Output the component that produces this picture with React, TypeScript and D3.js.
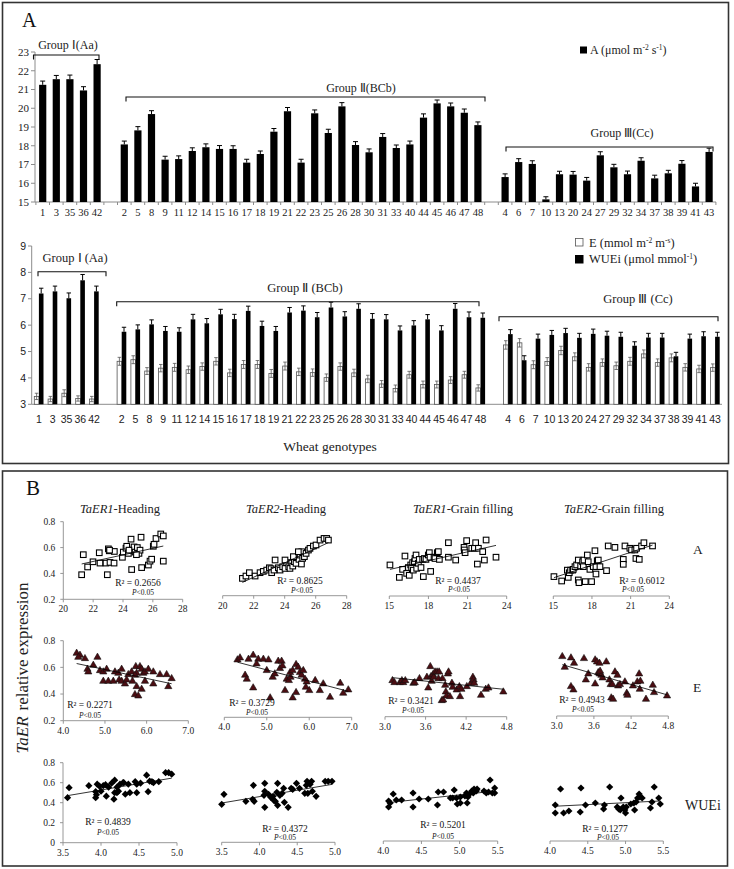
import React from 'react';
import * as d3 from 'd3';

// ---------- Panel A data ----------
const groupI = ['1', '3', '35', '36', '42'];
const groupII = ['2', '5', '8', '9', '11', '12', '14', '15', '16', '17', '18', '19', '21', '22', '23', '25', '26', '28', '30', '31', '33', '40', '44', '45', '46', '47', '48'];
const groupIII = ['4', '6', '7', '10', '13', '20', '24', '27', '29', '32', '34', '37', '38', '39', '41', '43'];

const photoA = [
  21.25, 21.55, 21.55, 20.95, 22.35,
  18.07, 18.82, 19.69, 17.26, 17.29, 17.72, 17.92, 17.83, 17.83, 17.10, 17.56, 18.75, 19.84, 17.10, 19.73, 18.68, 20.10, 18.04, 17.65, 18.47, 17.88, 18.07, 19.50, 20.26, 20.10, 19.76, 19.10,
  16.33, 17.13, 17.03, 15.14, 16.48, 16.46, 16.14, 17.49, 16.85, 16.48, 17.20, 16.26, 16.53, 17.04, 15.83, 17.67,
];
const photoAErr = [
  0.2, 0.2, 0.22, 0.2, 0.25,
  0.18, 0.2, 0.18, 0.18, 0.17, 0.17, 0.18, 0.18, 0.17, 0.18, 0.16, 0.17, 0.2, 0.18, 0.18, 0.2, 0.2, 0.18, 0.18, 0.18, 0.16, 0.18, 0.2, 0.18, 0.18, 0.2, 0.17,
  0.17, 0.18, 0.17, 0.14, 0.16, 0.17, 0.17, 0.19, 0.16, 0.17, 0.16, 0.17, 0.16, 0.17, 0.17, 0.2,
];
const transpE = [
  3.30, 3.20, 3.42, 3.22, 3.20,
  4.63, 4.69, 4.26, 4.37, 4.40, 4.31, 4.43, 4.63, 4.19, 4.51, 4.51, 4.17, 4.45, 4.23, 4.20, 4.01, 4.43, 4.19, 3.96, 3.77, 3.60, 4.12, 3.75, 3.75, 3.92, 4.12, 3.62,
  5.25, 5.33, 4.50, 4.62, 5.04, 4.80, 4.40, 4.58, 4.46, 4.63, 4.91, 4.58, 4.76, 4.40, 4.34, 4.39,
];
const transpEErr = [
  0.12, 0.1, 0.13, 0.1, 0.1,
  0.15, 0.15, 0.13, 0.14, 0.15, 0.14, 0.14, 0.14, 0.14, 0.15, 0.15, 0.15, 0.15, 0.14, 0.14, 0.14, 0.14, 0.14, 0.14, 0.13, 0.13, 0.13, 0.13, 0.13, 0.13, 0.13, 0.12,
  0.16, 0.16, 0.15, 0.15, 0.16, 0.15, 0.14, 0.14, 0.14, 0.15, 0.15, 0.14, 0.15, 0.14, 0.14, 0.14,
];
const wuei = [
  7.20, 7.28, 7.02, 7.70, 7.28,
  5.75, 5.84, 6.03, 5.78, 5.75, 6.22, 6.07, 6.41, 6.23, 6.54, 5.97, 5.78, 6.48, 6.55, 6.30, 6.67, 6.33, 6.62, 6.24, 6.22, 5.80, 5.99, 6.22, 5.80, 6.62, 6.30, 6.28,
  5.66, 4.67, 5.49, 5.63, 5.70, 5.52, 5.67, 5.60, 5.56, 5.22, 5.53, 5.53, 4.82, 5.49, 5.58, 5.56,
];
const wueiErr = [
  0.2, 0.2, 0.2, 0.22, 0.2,
  0.17, 0.17, 0.17, 0.17, 0.15, 0.19, 0.18, 0.19, 0.18, 0.18, 0.18, 0.17, 0.19, 0.18, 0.18, 0.2, 0.18, 0.19, 0.2, 0.18, 0.17, 0.18, 0.18, 0.18, 0.2, 0.2, 0.18,
  0.17, 0.17, 0.17, 0.17, 0.18, 0.17, 0.18, 0.17, 0.17, 0.15, 0.16, 0.16, 0.15, 0.17, 0.17, 0.17,
];
const topTicks = [15, 16, 17, 18, 19, 20, 21, 22, 23];
const bottomTicks = [3, 4, 5, 6, 7, 8, 9];

// ---------- Panel B data ----------
const er1HeadingVsA: [number, number][] = [
  [21.23, 0.39], [21.34, 0.545], [21.63, 0.45], [21.99, 0.49], [22.41, 0.56], [22.46, 0.48], [22.86, 0.48], [22.95, 0.39], [23.02, 0.59], [23.08, 0.575],
  [23.13, 0.485], [23.4, 0.48], [23.42, 0.57], [23.96, 0.525], [24.02, 0.565], [24.2, 0.595], [24.25, 0.61], [24.36, 0.555], [24.54, 0.665], [24.58, 0.43],
  [24.65, 0.58], [24.74, 0.605], [24.81, 0.565], [24.96, 0.6], [25.07, 0.555], [25.14, 0.58], [25.21, 0.68], [25.25, 0.445], [25.7, 0.465], [25.81, 0.495],
  [25.92, 0.51], [26.03, 0.61], [26.08, 0.625], [26.21, 0.67], [26.53, 0.705], [26.7, 0.69], [26.7, 0.495], [24.4, 0.58], [24.9, 0.545], [23.1, 0.58],
];
const er2HeadingVsA: [number, number][] = [
  [21.27, 0.334], [21.5, 0.352], [21.72, 0.378], [22.09, 0.352], [22.41, 0.378], [22.62, 0.388], [22.84, 0.398], [23.01, 0.416], [23.12, 0.409], [23.16, 0.378],
  [23.31, 0.398], [23.59, 0.416], [23.7, 0.398], [23.87, 0.424], [24.02, 0.411], [24.13, 0.455], [24.26, 0.424], [24.34, 0.411], [24.45, 0.455], [24.52, 0.429],
  [24.62, 0.463], [24.73, 0.45], [24.84, 0.496], [24.92, 0.481], [24.99, 0.514], [25.08, 0.445], [25.16, 0.489], [25.1, 0.54], [25.27, 0.502], [25.38, 0.527],
  [25.53, 0.553], [25.63, 0.566], [25.85, 0.584], [26.02, 0.592], [26.28, 0.63], [26.54, 0.643], [26.71, 0.643], [26.82, 0.63], [23.38, 0.476], [24.02, 0.476],
  [24.56, 0.502], [24.88, 0.54],
];
const er1GrainVsA: [number, number][] = [
  [15.05, 0.44], [15.77, 0.344], [16.02, 0.406], [16.2, 0.509], [16.33, 0.375], [16.46, 0.42], [16.53, 0.36], [16.64, 0.44], [16.71, 0.42], [16.79, 0.458],
  [16.84, 0.4], [16.92, 0.465], [16.97, 0.49], [17.05, 0.517], [17.1, 0.414], [17.23, 0.453], [17.3, 0.483], [17.43, 0.42], [17.56, 0.483], [17.61, 0.35],
  [17.69, 0.49], [17.81, 0.483], [17.99, 0.517], [18.07, 0.535], [18.12, 0.5], [18.17, 0.39], [18.43, 0.5], [18.5, 0.49], [18.68, 0.535], [18.76, 0.543],
  [18.84, 0.483], [19.53, 0.612], [19.53, 0.5], [20.09, 0.478], [20.73, 0.576], [20.75, 0.556], [20.81, 0.535], [20.93, 0.628], [21.32, 0.569], [21.52, 0.569],
  [21.62, 0.612], [21.75, 0.447], [21.83, 0.569], [22.16, 0.543], [22.29, 0.478], [22.42, 0.633], [23.18, 0.5],
];
const er2GrainVsA: [number, number][] = [
  [15.05, 0.35], [15.65, 0.316], [16.09, 0.4], [16.16, 0.344], [16.24, 0.38], [16.34, 0.4], [16.5, 0.4], [16.55, 0.406], [16.68, 0.427], [16.81, 0.44],
  [16.94, 0.478], [16.94, 0.324], [16.99, 0.303], [17.12, 0.432], [17.27, 0.465], [17.33, 0.427], [17.38, 0.478], [17.48, 0.311], [17.64, 0.517], [17.71, 0.465],
  [17.84, 0.406], [17.97, 0.311], [18.1, 0.427], [18.23, 0.55], [18.31, 0.427], [18.31, 0.37], [18.41, 0.473], [18.49, 0.478], [18.62, 0.427], [19.13, 0.396],
  [19.26, 0.587], [19.78, 0.576], [20.43, 0.483], [20.43, 0.445], [20.56, 0.587], [20.94, 0.569], [21.07, 0.556], [21.33, 0.556], [21.46, 0.569], [21.41, 0.49],
  [21.67, 0.483], [21.85, 0.587], [22.03, 0.612], [22.7, 0.587],
];
const er1HeadingVsE: [number, number][] = [
  [4.32, 0.71], [4.4, 0.695], [4.36, 0.68], [4.52, 0.67], [4.72, 0.62], [4.82, 0.68], [4.58, 0.59], [4.6, 0.57], [4.88, 0.58], [4.96, 0.57],
  [5.04, 0.59], [4.96, 0.5], [5.08, 0.5], [5.2, 0.5], [5.24, 0.57], [5.32, 0.56], [5.34, 0.51], [5.4, 0.59], [5.4, 0.5], [5.48, 0.48],
  [5.56, 0.55], [5.64, 0.57], [5.66, 0.5], [5.74, 0.61], [5.76, 0.56], [5.84, 0.61], [5.88, 0.59], [5.92, 0.56], [5.96, 0.57], [5.76, 0.46],
  [5.72, 0.4], [5.8, 0.39], [5.88, 0.44], [5.96, 0.5], [6.04, 0.59], [6.16, 0.57], [6.16, 0.48], [6.32, 0.55], [6.48, 0.55], [6.52, 0.46],
  [6.6, 0.52], [5.72, 0.545], [5.52, 0.51],
];
const er2HeadingVsE: [number, number][] = [
  [4.31, 0.635], [4.37, 0.65], [4.57, 0.64], [4.68, 0.67], [4.8, 0.64], [4.92, 0.64], [5.04, 0.635], [5.27, 0.625], [5.35, 0.625], [4.76, 0.605],
  [4.49, 0.52], [4.53, 0.49], [5.0, 0.555], [5.14, 0.505], [5.19, 0.53], [5.31, 0.57], [5.37, 0.59], [5.47, 0.49], [5.52, 0.48], [5.56, 0.505],
  [5.55, 0.54], [5.61, 0.555], [5.69, 0.6], [5.74, 0.58], [5.78, 0.54], [5.82, 0.52], [5.86, 0.555], [5.9, 0.49], [5.94, 0.47], [5.92, 0.43],
  [6.0, 0.405], [5.43, 0.405], [5.08, 0.35], [4.68, 0.425], [5.61, 0.35], [5.69, 0.39], [6.14, 0.48], [6.25, 0.405], [6.33, 0.455], [6.49, 0.355],
  [6.73, 0.46], [6.8, 0.385], [6.92, 0.41],
];
const er1GrainVsE: [number, number][] = [
  [3.11, 0.475], [3.14, 0.46], [3.22, 0.46], [3.25, 0.475], [3.27, 0.46], [3.3, 0.475], [3.42, 0.455], [3.44, 0.46], [3.51, 0.49], [3.62, 0.5],
  [3.64, 0.42], [3.67, 0.58], [3.68, 0.505], [3.69, 0.47], [3.71, 0.52], [3.72, 0.5], [3.74, 0.54], [3.77, 0.54], [3.8, 0.54], [3.79, 0.49],
  [3.85, 0.49], [3.84, 0.325], [3.86, 0.33], [3.89, 0.44], [3.9, 0.39], [3.91, 0.36], [3.93, 0.525], [3.94, 0.54], [3.96, 0.355], [3.99, 0.455],
  [4.0, 0.425], [4.06, 0.405], [4.1, 0.43], [4.11, 0.355], [4.13, 0.41], [4.21, 0.43], [4.27, 0.455], [4.3, 0.5], [4.31, 0.48], [4.32, 0.455],
  [4.42, 0.365], [4.49, 0.41], [4.53, 0.42], [4.75, 0.39],
];
const er2GrainVsE: [number, number][] = [
  [3.09, 0.65], [3.13, 0.57], [3.23, 0.64], [3.28, 0.6], [3.23, 0.425], [3.27, 0.4], [3.44, 0.635], [3.47, 0.475], [3.51, 0.52], [3.62, 0.625],
  [3.65, 0.61], [3.69, 0.6], [3.8, 0.61], [3.62, 0.445], [3.67, 0.53], [3.69, 0.52], [3.72, 0.51], [3.74, 0.49], [3.7, 0.54], [3.85, 0.475],
  [3.87, 0.44], [3.9, 0.44], [3.88, 0.34], [3.91, 0.33], [3.94, 0.535], [3.98, 0.51], [3.99, 0.43], [4.02, 0.44], [4.1, 0.46], [4.13, 0.375],
  [4.14, 0.36], [4.23, 0.43], [4.3, 0.46], [4.33, 0.52], [4.34, 0.405], [4.35, 0.465], [4.44, 0.33], [4.55, 0.435], [4.57, 0.38], [4.78, 0.355],
];
const er1HeadingVsWUEi: [number, number][] = [
  [3.56, 0.45], [3.58, 0.55], [3.84, 0.57], [3.93, 0.51], [3.94, 0.48], [3.93, 0.45], [3.95, 0.585], [4.03, 0.57], [4.06, 0.58], [4.07, 0.465],
  [4.1, 0.555], [4.14, 0.595], [4.18, 0.625], [4.17, 0.435], [4.18, 0.5], [4.21, 0.555], [4.21, 0.5], [4.23, 0.515], [4.25, 0.585], [4.29, 0.6],
  [4.3, 0.6], [4.32, 0.485], [4.36, 0.585], [4.38, 0.5], [4.45, 0.61], [4.47, 0.5], [4.47, 0.585], [4.52, 0.595], [4.6, 0.675], [4.62, 0.51],
  [4.64, 0.615], [4.67, 0.61], [4.69, 0.6], [4.76, 0.61], [4.85, 0.7], [4.89, 0.7], [4.93, 0.685], [3.98, 0.565], [4.0, 0.515],
];
const er2HeadingVsWUEi: [number, number][] = [
  [3.5, 0.38], [3.53, 0.48], [3.82, 0.41], [3.91, 0.43], [3.92, 0.57], [3.93, 0.41], [4.06, 0.47], [4.07, 0.51], [4.07, 0.59], [4.07, 0.35],
  [4.12, 0.48], [4.15, 0.45], [4.18, 0.46], [4.19, 0.42], [4.21, 0.41], [4.23, 0.5], [4.24, 0.59], [4.24, 0.37], [4.27, 0.47], [4.3, 0.49],
  [4.32, 0.54], [4.33, 0.4], [4.38, 0.35], [4.42, 0.54], [4.44, 0.53], [4.49, 0.59], [4.53, 0.54], [4.6, 0.49], [4.62, 0.57], [4.63, 0.61],
  [4.64, 0.49], [4.67, 0.58], [4.69, 0.61], [4.7, 0.51], [4.75, 0.46], [4.87, 0.61], [4.91, 0.61], [4.96, 0.61],
];
const er1GrainVsWUEi: [number, number][] = [
  [4.07, 0.4], [4.07, 0.34], [4.09, 0.38], [4.13, 0.47], [4.17, 0.41], [4.24, 0.41], [4.39, 0.48], [4.39, 0.34], [4.47, 0.42], [4.59, 0.42],
  [4.71, 0.36], [4.72, 0.49], [4.79, 0.49], [4.88, 0.43], [4.91, 0.43], [4.93, 0.51], [4.96, 0.43], [4.97, 0.37], [5.01, 0.38], [5.01, 0.44],
  [5.07, 0.45], [5.09, 0.48], [5.1, 0.38], [5.11, 0.44], [5.13, 0.47], [5.16, 0.5], [5.18, 0.48], [5.19, 0.52], [5.22, 0.5], [5.23, 0.52],
  [5.32, 0.5], [5.35, 0.48], [5.38, 0.49], [5.4, 0.61], [5.43, 0.48], [5.46, 0.53], [5.46, 0.48],
];
const er2GrainVsWUEi: [number, number][] = [
  [4.07, 0.36], [4.07, 0.28], [4.14, 0.52], [4.18, 0.28], [4.25, 0.3], [4.4, 0.29], [4.41, 0.53], [4.47, 0.36], [4.6, 0.38], [4.71, 0.32],
  [4.72, 0.36], [4.79, 0.54], [4.89, 0.34], [4.91, 0.32], [4.93, 0.31], [4.94, 0.43], [4.97, 0.34], [4.99, 0.31], [5.0, 0.28], [5.01, 0.34],
  [5.07, 0.37], [5.11, 0.38], [5.12, 0.31], [5.14, 0.39], [5.16, 0.43], [5.18, 0.47], [5.19, 0.44], [5.22, 0.43], [5.33, 0.33], [5.35, 0.39],
  [5.38, 0.54], [5.44, 0.43], [5.46, 0.37],
];

const r2Labels = ['0.2656', '0.8625', '0.4437', '0.6012', '0.2271', '0.3729', '0.3421', '0.4943', '0.4839', '0.4372', '0.5201', '0.1277'];

const SERIF = '"Liberation Serif", "Times New Roman", serif';
const SANS = '"Liberation Sans", Arial, sans-serif';
const AXIS = '#8c8c8c';

type Marker = 'square' | 'triangle' | 'diamond';

function fitLine(d: [number, number][]) {
  const mx = d3.mean(d, (p) => p[0]) as number;
  const my = d3.mean(d, (p) => p[1]) as number;
  let num = 0;
  let den = 0;
  d.forEach(([x, y]) => { num += (x - mx) * (y - my); den += (x - mx) * (x - mx); });
  const slope = num / den;
  return { slope, intercept: my - slope * mx };
}

function MarkerShape({ type, x, y }: { type: Marker; x: number; y: number }) {
  if (type === 'square') {
    return <rect x={x - 2.8} y={y - 2.8} width={5.6} height={5.6} fill="#fff" stroke="#000" strokeWidth={1.1} />;
  }
  if (type === 'triangle') {
    return <path d={`M${x},${y - 3.6}L${x + 3.6},${y + 2.6}L${x - 3.6},${y + 2.6}Z`} fill="#4b0d12" stroke="#111" strokeWidth={0.6} />;
  }
  return <path d={`M${x},${y - 3.6}L${x + 3.6},${y}L${x},${y + 3.6}L${x - 3.6},${y}Z`} fill="#000" />;
}

type ScatterProps = {
  data: [number, number][];
  xDomain: [number, number];
  xTicks: number[];
  xFmt: (v: number) => string;
  x0: number;
  x1: number;
  yBase: number;
  yHeight: number;
  yDomain: [number, number];
  yTicks?: number[];
  yFmt?: (v: number) => string;
  marker: Marker;
  r2: string;
  r2x: number;
  r2y: number;
  px: number;
  py: number;
};

function Scatter(p: ScatterProps) {
  const x = d3.scaleLinear().domain(p.xDomain).range([p.x0, p.x1]);
  const y = d3.scaleLinear().domain(p.yDomain).range([p.yBase, p.yBase - p.yHeight]);
  const { slope, intercept } = fitLine(p.data);
  const [xmin, xmax] = d3.extent(p.data, (d) => d[0]) as [number, number];
  return (
    <g>
      <line x1={p.x0} x2={p.x1} y1={p.yBase} y2={p.yBase} stroke={AXIS} strokeWidth={0.9} />
      {p.xTicks.map((t) => (
        <g key={t}>
          <line x1={x(t)} x2={x(t)} y1={p.yBase} y2={p.yBase + 3} stroke={AXIS} strokeWidth={0.9} />
          <text x={x(t)} y={p.yBase + 13} textAnchor="middle" fontSize={9.5} fontFamily={SERIF} fill="#222">{p.xFmt(t)}</text>
        </g>
      ))}
      {p.yTicks && (
        <g>
          <line x1={p.x0} x2={p.x0} y1={p.yBase} y2={p.yBase - p.yHeight} stroke={AXIS} strokeWidth={0.9} />
          {p.yTicks.map((t) => (
            <g key={t}>
              <line x1={p.x0 - 3} x2={p.x0} y1={y(t)} y2={y(t)} stroke={AXIS} strokeWidth={0.9} />
              <text x={p.x0 - 8} y={y(t)} dy="0.35em" textAnchor="end" fontSize={9.5} fontFamily={SERIF} fill="#222">{p.yFmt ? p.yFmt(t) : String(t)}</text>
            </g>
          ))}
        </g>
      )}
      {p.data.map((d, i) => (
        <MarkerShape key={i} type={p.marker} x={x(d[0])} y={y(d[1])} />
      ))}
      <line x1={x(xmin)} x2={x(xmax)} y1={y(slope * xmin + intercept)} y2={y(slope * xmax + intercept)} stroke="#000" strokeWidth={0.8} />
      <text x={p.r2x} y={p.r2y} textAnchor="middle" fontSize={9.5} fontFamily={SERIF} fill="#111">{`R² = ${p.r2}`}</text>
      <text x={p.px} y={p.py} textAnchor="middle" fontSize={7.5} fontFamily={SERIF} fill="#111"><tspan fontStyle="italic">P</tspan>{'<0.05'}</text>
    </g>
  );
}

export default function App() {
  const slots = [...groupI, 'gapA', ...groupII, 'gapB', ...groupIII];
  const genotypes = [...groupI, ...groupII, ...groupIII];

  // top bar chart
  const xTop = d3.scaleBand<string>().domain(slots).range([35.9, 715.9]);
  const yTop = d3.scaleLinear().domain([15, 23]).range([202, 52]);
  const topBoundaries = d3.range(slots.length + 1).map((i) => 35.9 + i * xTop.step());

  // bottom bar chart
  const xBot = d3.scaleBand<string>().domain(slots).range([32, 722]);
  const yBot = d3.scaleLinear().domain([3, 9]).range([404.3, 246]);

  const f1 = (v: number) => v.toFixed(1);
  const f0 = (v: number) => String(v);
  const fY = (v: number) => (v === 0 ? '0' : v.toFixed(1));

  const rowA = { yDomain: [0.2, 0.8] as [number, number], yHeight: 77.6, marker: 'square' as Marker };
  const rowE = { yDomain: [0.2, 0.8] as [number, number], yHeight: 80, marker: 'triangle' as Marker };
  const rowW = { yDomain: [0, 0.8] as [number, number], yHeight: 80, marker: 'diamond' as Marker };

  const scatters: ScatterProps[] = [
    { ...rowA, data: er1HeadingVsA, xDomain: [20, 28], xTicks: [20, 22, 24, 26, 28], xFmt: f0, x0: 63.3, x1: 182.7, yBase: 599.3, yTicks: [0.2, 0.4, 0.6, 0.8], yFmt: fY, r2: r2Labels[0], r2x: 138, r2y: 586, px: 143, py: 595 },
    { ...rowA, data: er2HeadingVsA, xDomain: [20, 28], xTicks: [20, 22, 24, 26, 28], xFmt: f0, x0: 222.7, x1: 346.7, yBase: 595.7, r2: r2Labels[1], r2x: 300, r2y: 584, px: 302, py: 593 },
    { ...rowA, data: er1GrainVsA, xDomain: [15, 24], xTicks: [15, 18, 21, 24], xFmt: f0, x0: 389.3, x1: 506.7, yBase: 596, r2: r2Labels[2], r2x: 458, r2y: 584, px: 459, py: 592 },
    { ...rowA, data: er2GrainVsA, xDomain: [15, 24], xTicks: [15, 18, 21, 24], xFmt: f0, x0: 553.3, x1: 669.3, yBase: 596, r2: r2Labels[3], r2x: 642, r2y: 584, px: 633, py: 592 },
    { ...rowE, data: er1HeadingVsE, xDomain: [4, 7], xTicks: [4, 5, 6, 7], xFmt: f1, x0: 63.3, x1: 188.3, yBase: 720.7, yTicks: [0.2, 0.4, 0.6, 0.8], yFmt: fY, r2: r2Labels[4], r2x: 90, r2y: 708, px: 90, py: 718 },
    { ...rowE, data: er2HeadingVsE, xDomain: [4, 7], xTicks: [4, 5, 6, 7], xFmt: f1, x0: 224.3, x1: 351.7, yBase: 717.3, r2: r2Labels[5], r2x: 252, r2y: 706, px: 257, py: 715 },
    { ...rowE, data: er1GrainVsE, xDomain: [3, 4.8], xTicks: [3.0, 3.6, 4.2, 4.8], xFmt: f1, x0: 385, x1: 506.7, yBase: 716.7, r2: r2Labels[6], r2x: 411, r2y: 704, px: 413, py: 713 },
    { ...rowE, data: er2GrainVsE, xDomain: [3, 4.8], xTicks: [3.0, 3.6, 4.2, 4.8], xFmt: f1, x0: 556.7, x1: 668.3, yBase: 716, r2: r2Labels[7], r2x: 582, r2y: 703, px: 583, py: 712 },
    { ...rowW, data: er1HeadingVsWUEi, xDomain: [3.5, 5], xTicks: [3.5, 4.0, 4.5, 5.0], xFmt: f1, x0: 63, x1: 177, yBase: 842.7, yTicks: [0, 0.2, 0.4, 0.6, 0.8], yFmt: fY, r2: r2Labels[8], r2x: 108, r2y: 825, px: 108, py: 835 },
    { ...rowW, data: er2HeadingVsWUEi, xDomain: [3.5, 5], xTicks: [3.5, 4.0, 4.5, 5.0], xFmt: f1, x0: 221.7, x1: 335, yBase: 842.3, r2: r2Labels[9], r2x: 285, r2y: 832, px: 285, py: 840 },
    { ...rowW, data: er1GrainVsWUEi, xDomain: [4, 5.5], xTicks: [4.0, 4.5, 5.0, 5.5], xFmt: f1, x0: 383.3, x1: 497.7, yBase: 841, r2: r2Labels[10], r2x: 443, r2y: 828, px: 443, py: 839 },
    { ...rowW, data: er2GrainVsWUEi, xDomain: [4, 5.5], xTicks: [4.0, 4.5, 5.0, 5.5], xFmt: f1, x0: 550, x1: 663.3, yBase: 841, r2: r2Labels[11], r2x: 605, r2y: 832, px: 608, py: 840 },
  ];

  const titles = [
    { gene: 'TaER1', stage: '-Heading', x: 120 },
    { gene: 'TaER2', stage: '-Heading', x: 286 },
    { gene: 'TaER1', stage: '-Grain filling', x: 463 },
    { gene: 'TaER2', stage: '-Grain filling', x: 614 },
  ];

  const bracket = (x1: number, x2: number, y: number, drop: number) =>
    `M${x1},${y + drop}V${y}H${x2}V${y + drop}`;

  return (
    <svg width={734} height={869} style={{ position: 'absolute', left: 0, top: 0, background: '#fff' }} fontFamily={SERIF}>
      <rect x={0} y={0} width={734} height={869} fill="#fff" />
      {/* Panel borders */}
      <rect x={2.5} y={2.5} width={726} height={461} fill="none" stroke="#333" strokeWidth={1.6} />
      <rect x={2.5} y={471} width={725} height={395} fill="none" stroke="#333" strokeWidth={1.6} />

      <text x={22} y={27} fontSize={20} fill="#111">A</text>
      <text x={26} y={495} fontSize={21} fill="#111">B</text>

      {/* ---------- Top bar chart ---------- */}
      <line x1={35} x2={35} y1={52} y2={202} stroke={AXIS} strokeWidth={1} />
      {topTicks.map((t) => (
        <g key={t}>
          <line x1={31} x2={35} y1={yTop(t)} y2={yTop(t)} stroke={AXIS} strokeWidth={1} />
          <text x={29} y={yTop(t)} dy="0.35em" textAnchor="end" fontSize={11} fill="#222">{t}</text>
        </g>
      ))}
      <line x1={35} x2={716} y1={202} y2={202} stroke={AXIS} strokeWidth={1} />
      {topBoundaries.map((b, i) => (
        <line key={i} x1={b} x2={b} y1={202} y2={205} stroke={AXIS} strokeWidth={1} />
      ))}
      {genotypes.map((g, i) => {
        const cx = (xTop(g) as number) + xTop.bandwidth() / 2;
        const v = photoA[i];
        const e = photoAErr[i];
        return (
          <g key={g}>
            <rect x={cx - 3.6} y={yTop(v)} width={7.2} height={202 - yTop(v)} fill="#000" />
            <line x1={cx} x2={cx} y1={yTop(v + e)} y2={yTop(v)} stroke="#000" strokeWidth={1} />
            <line x1={cx - 2.5} x2={cx + 2.5} y1={yTop(v + e)} y2={yTop(v + e)} stroke="#000" strokeWidth={1} />
            <text x={cx} y={216} textAnchor="middle" fontSize={10.5} fill="#222">{g}</text>
          </g>
        );
      })}
      <path d={bracket(33.5, 99, 55, 4.5)} fill="none" stroke="#111" strokeWidth={1.1} />
      <path d={bracket(126, 485, 97, 4.5)} fill="none" stroke="#111" strokeWidth={1.1} />
      <path d={bracket(506, 713, 147, 4.5)} fill="none" stroke="#111" strokeWidth={1.1} />
      <text x={68} y={49} textAnchor="middle" fontSize={12} fill="#222">Group Ⅰ(Aa)</text>
      <text x={361} y={92} textAnchor="middle" fontSize={12} fill="#222">Group Ⅱ(BCb)</text>
      <text x={622} y={137} textAnchor="middle" fontSize={12} fill="#222">Group Ⅲ(Cc)</text>
      <rect x={580} y={46.5} width={7} height={7} fill="#000" />
      <text x={590} y={54} fontSize={12} fill="#222">
        A (μmol m<tspan fontSize={7.5} dy={-4}>-2</tspan><tspan dy={4}> s</tspan><tspan fontSize={7.5} dy={-4}>-1</tspan><tspan dy={4}>)</tspan>
      </text>

      {/* ---------- Bottom bar chart ---------- */}
      <line x1={31.7} x2={31.7} y1={246} y2={404.3} stroke={AXIS} strokeWidth={1} />
      {bottomTicks.map((t) => (
        <g key={t}>
          <line x1={28} x2={31.7} y1={yBot(t)} y2={yBot(t)} stroke={AXIS} strokeWidth={1} />
          <text x={26} y={yBot(t)} dy="0.35em" textAnchor="end" fontSize={10.5} fontFamily={SANS} fill="#222">{t}</text>
        </g>
      ))}
      <line x1={31.7} x2={722} y1={404.3} y2={404.3} stroke={AXIS} strokeWidth={1} />
      {genotypes.map((g, i) => {
        const cx = (xBot(g) as number) + xBot.bandwidth() / 2;
        const ev = transpE[i];
        const ee = transpEErr[i];
        const wv = wuei[i];
        const we = wueiErr[i];
        const bw = 4.6;
        const ecx = cx - bw / 2;
        const wcx = cx + bw / 2;
        return (
          <g key={g}>
            <rect x={cx - bw} y={yBot(ev)} width={bw} height={404.3 - yBot(ev)} fill="#fff" stroke="#555" strokeWidth={0.8} />
            <rect x={cx} y={yBot(wv)} width={bw} height={404.3 - yBot(wv)} fill="#000" />
            <line x1={ecx} x2={ecx} y1={yBot(ev + ee)} y2={yBot(ev - ee)} stroke="#555" strokeWidth={0.8} />
            <line x1={ecx - 1.8} x2={ecx + 1.8} y1={yBot(ev + ee)} y2={yBot(ev + ee)} stroke="#555" strokeWidth={0.8} />
            <line x1={ecx - 1.8} x2={ecx + 1.8} y1={yBot(ev - ee)} y2={yBot(ev - ee)} stroke="#555" strokeWidth={0.8} />
            <line x1={wcx} x2={wcx} y1={yBot(wv + we)} y2={yBot(wv)} stroke="#000" strokeWidth={1} />
            <line x1={wcx - 2.2} x2={wcx + 2.2} y1={yBot(wv + we)} y2={yBot(wv + we)} stroke="#000" strokeWidth={1} />
            <text x={cx} y={423} textAnchor="middle" fontSize={10.5} fontFamily={SANS} fill="#222">{g}</text>
          </g>
        );
      })}
      <path d={bracket(38, 106, 271.7, 4.5)} fill="none" stroke="#111" strokeWidth={1.1} />
      <path d={bracket(116.7, 479, 301.7, 4.5)} fill="none" stroke="#111" strokeWidth={1.1} />
      <path d={bracket(499, 718, 316.7, 4.5)} fill="none" stroke="#111" strokeWidth={1.1} />
      <text x={75} y={262} textAnchor="middle" fontSize={12.5} fill="#222">Group Ⅰ (Aa)</text>
      <text x={305} y={292} textAnchor="middle" fontSize={12.5} fill="#222">Group Ⅱ (BCb)</text>
      <text x={638} y={303} textAnchor="middle" fontSize={12.5} fill="#222">Group Ⅲ (Cc)</text>
      <rect x={575.5} y={238.5} width={7.5} height={7.5} fill="#fff" stroke="#555" strokeWidth={0.8} />
      <text x={589} y={246.5} fontSize={12.5} fill="#222">
        E (mmol m<tspan fontSize={7.5} dy={-4}>-2</tspan><tspan dy={4}> m</tspan><tspan fontSize={7.5} dy={-4}>-s</tspan><tspan dy={4}>)</tspan>
      </text>
      <rect x={575} y={255} width={8.5} height={8.5} fill="#000" />
      <text x={589} y={263} fontSize={12.5} fill="#222">
        WUEi (μmol mmol<tspan fontSize={7.5} dy={-4}>-1</tspan><tspan dy={4}>)</tspan>
      </text>
      <text x={330} y={451} textAnchor="middle" fontSize={13.5} fill="#222">Wheat genotypes</text>

      {/* ---------- Panel B ---------- */}
      {titles.map((t, i) => (
        <text key={i} x={t.x} y={513} textAnchor="middle" fontSize={12.5} fill="#222">
          <tspan fontStyle="italic">{t.gene}</tspan>{t.stage}
        </text>
      ))}
      {scatters.map((s, i) => (
        <Scatter key={i} {...s} />
      ))}
      <text x={693} y={554} fontSize={13.5} fill="#222">A</text>
      <text x={693} y={692} fontSize={13.5} fill="#222">E</text>
      <text x={685} y={810} fontSize={14} fill="#222">WUEi</text>
      <text transform="translate(28,668) rotate(-90)" textAnchor="middle" fontSize={17} fill="#222">
        <tspan fontStyle="italic">TaER</tspan><tspan dx={6}>relative expression</tspan>
      </text>
    </svg>
  );
}
